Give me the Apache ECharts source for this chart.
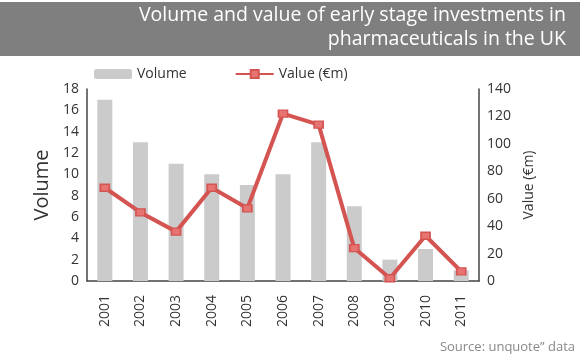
<!DOCTYPE html>
<html><head><meta charset="utf-8">
<script src="https://cdn.jsdelivr.net/npm/echarts@6/dist/echarts.min.js"></script>
<style>html,body{margin:0;padding:0;background:#fff}#c{width:580px;height:358px}</style>
</head><body><div id="c"></div>
<script>
const years = ['2001','2002','2003','2004','2005','2006','2007','2008','2009','2010','2011'];
const volume = [17, 13, 11, 10, 9, 10, 13, 7, 2, 3, 1];
const valueEm = [68, 50, 36, 68, 53, 122, 114, 24, 2, 33, 7];
const volumeTicks = [0, 2, 4, 6, 8, 10, 12, 14, 16, 18];
const valueTicks = [0, 20, 40, 60, 80, 100, 120, 140];

const FONT = '"Open Sans", "DejaVu Sans", sans-serif';
const chart = echarts.init(document.getElementById('c'), null, {renderer: 'canvas'});
chart.setOption({
  animation: false,
  backgroundColor: '#fff',
  textStyle: {fontFamily: FONT},
  graphic: [
    {type: 'rect', left: 0, top: 2, shape: {width: 580, height: 54}, style: {fill: '#7f7f80'}},
    {type: 'text', right: 14, top: 5, style: {text: 'Volume and value of early stage investments in', fill: '#fff', font: '19.5px ' + FONT}},
    {type: 'text', right: 14, top: 29, style: {text: 'pharmaceuticals in the UK', fill: '#fff', font: '19.5px ' + FONT}},
    {type: 'text', right: 5, top: 341, style: {text: 'Source: unquote” data', fill: '#888', font: '13px ' + FONT}}
  ],
  legend: {
    left: 89, top: 62, itemWidth: 38, itemHeight: 10, itemGap: 48,
    textStyle: {fontSize: 14, color: '#333', fontFamily: FONT},
    data: ['Volume', 'Value (€m)']
  },
  grid: {left: 87, right: 101, top: 89, bottom: 77},
  xAxis: {
    type: 'category', data: years,
    axisLine: {lineStyle: {color: '#444', width: 1.5}},
    axisTick: {inside: true, length: 4, lineStyle: {color: '#444'}},
    axisLabel: {rotate: 90, fontSize: 14, color: '#333', margin: 14, fontFamily: FONT}
  },
  yAxis: [
    {type: 'value', min: volumeTicks[0], max: volumeTicks[volumeTicks.length-1], interval: 2,
     name: 'Volume', nameLocation: 'middle', nameGap: 35, nameTextStyle: {fontSize: 20, color: '#333', fontFamily: FONT},
     axisLine: {show: true, lineStyle: {color: '#444', width: 1.5}}, axisTick: {show: false},
     splitLine: {show: false}, axisLabel: {fontSize: 14, color: '#333', margin: 8, fontFamily: FONT}},
    {type: 'value', min: valueTicks[0], max: valueTicks[valueTicks.length-1], interval: 20, position: 'right',
     name: 'Value (€m)', nameLocation: 'middle', nameGap: 43, nameRotate: 90, nameTextStyle: {fontSize: 14, color: '#333', fontFamily: FONT},
     axisLine: {show: true, lineStyle: {color: '#444', width: 1.5}}, axisTick: {show: false},
     splitLine: {show: false}, axisLabel: {fontSize: 14, color: '#333', margin: 8, fontFamily: FONT}}
  ],
  series: [
    {name: 'Volume', type: 'bar', data: volume, barWidth: 15, itemStyle: {color: '#cbcbcb'}},
    {name: 'Value (€m)', type: 'line', yAxisIndex: 1, data: valueEm,
     lineStyle: {color: '#d45452', width: 4},
     symbol: 'rect', symbolSize: [9, 7],
     itemStyle: {color: '#e87472', borderColor: '#d45452', borderWidth: 1.5}}
  ]
});
</script></body></html>
